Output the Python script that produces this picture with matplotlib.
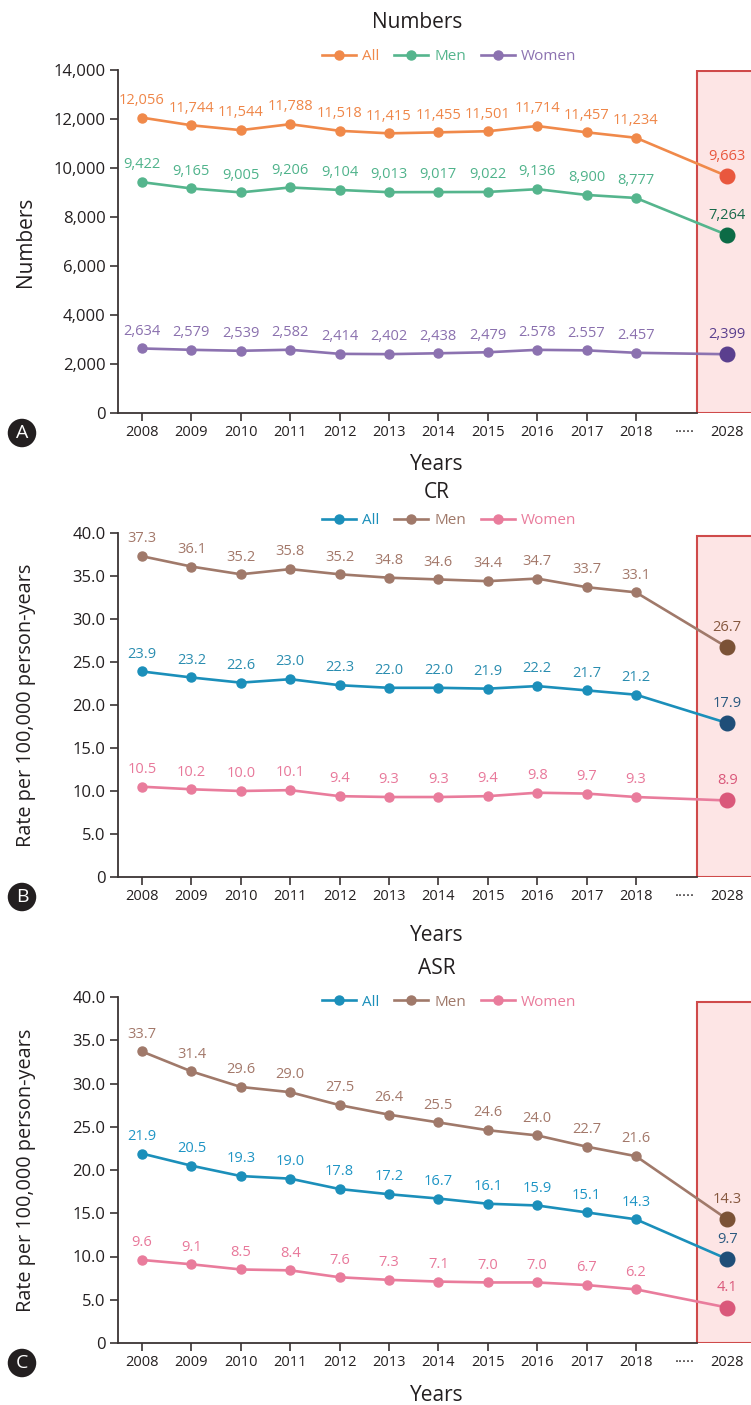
import numpy as np
import matplotlib.pyplot as plt
from matplotlib.patches import Rectangle

plt.rcParams['font.family'] = ['Open Sans', 'DejaVu Sans']

years = ['2008', '2009', '2010', '2011', '2012', '2013', '2014', '2015', '2016', '2017', '2018', '2028']

# panel A - numbers
num_all = [12056, 11744, 11544, 11788, 11518, 11415, 11455, 11501, 11714, 11457, 11234, 9663]
num_men = [9422, 9165, 9005, 9206, 9104, 9013, 9017, 9022, 9136, 8900, 8777, 7264]
num_women = [2634, 2579, 2539, 2582, 2414, 2402, 2438, 2479, 2578, 2557, 2457, 2399]
num_all_lab = ['12,056', '11,744', '11,544', '11,788', '11,518', '11,415', '11,455', '11,501', '11,714',
               '11,457', '11,234', '9,663']
num_men_lab = ['9,422', '9,165', '9,005', '9,206', '9,104', '9,013', '9,017', '9,022', '9,136', '8,900',
               '8,777', '7,264']
num_women_lab = ['2,634', '2,579', '2,539', '2,582', '2,414', '2,402', '2,438', '2,479', '2.578', '2.557',
                 '2.457', '2,399']

# panel B - crude rate
cr_all = [23.9, 23.2, 22.6, 23.0, 22.3, 22.0, 22.0, 21.9, 22.2, 21.7, 21.2, 17.9]
cr_men = [37.3, 36.1, 35.2, 35.8, 35.2, 34.8, 34.6, 34.4, 34.7, 33.7, 33.1, 26.7]
cr_women = [10.5, 10.2, 10.0, 10.1, 9.4, 9.3, 9.3, 9.4, 9.8, 9.7, 9.3, 8.9]

# panel C - age standardized rate
asr_all = [21.9, 20.5, 19.3, 19.0, 17.8, 17.2, 16.7, 16.1, 15.9, 15.1, 14.3, 9.7]
asr_men = [33.7, 31.4, 29.6, 29.0, 27.5, 26.4, 25.5, 24.6, 24.0, 22.7, 21.6, 14.3]
asr_women = [9.6, 9.1, 8.5, 8.4, 7.6, 7.3, 7.1, 7.0, 7.0, 6.7, 6.2, 4.1]

# x positions: 11 observed years, a gap, then the projection year
xpos = np.append(np.arange(11), 11.85)
x_dots = 11.0
x_box = 11.23
xlim = (-0.486, 12.33)

TXT = '#231f20'
SPINE = '#3a3434'

fig = plt.figure(figsize=(7.51, 14.05), dpi=100)
H = 1405.
W = 751.
AW = W - 118


def make_axes(top_px, bottom_px):
    return fig.add_axes([118 / W, 1 - bottom_px / H, AW / W, (bottom_px - top_px) / H])


def draw_series(ax, vals, labels, col, lab_col, end_col, end_lab_col, name):
    ax.plot(xpos, vals, color=col, lw=1.9, marker='o', ms=6.5, zorder=3, label=name)
    ax.plot(xpos[-1], vals[-1], marker='o', ms=10.5, color=end_col, zorder=4)
    for i in range(len(vals)):
        if i < len(vals) - 1:
            ax.annotate(labels[i], (xpos[i], vals[i]), xytext=(0, 7), textcoords='offset points',
                        ha='center', va='bottom', fontsize=10.5, color=lab_col)
        else:
            ax.annotate(labels[i], (xpos[i], vals[i]), xytext=(0, 9), textcoords='offset points',
                        ha='center', va='bottom', fontsize=10.5, color=end_lab_col)


def style_axes(ax, ymax, step, fmt, box_top, title, title_dy, legend_dy, ylabel, ylabel_fs, years_dy,
               letter, title_x=0.504):
    ax.set_xlim(xlim)
    ax.set_ylim(0, ymax)
    ax.add_patch(Rectangle((x_box, 0), 5, box_top, facecolor='#fde5e5', edgecolor='#cf4a4a', lw=1.5,
                           zorder=1))
    for s in ['top', 'right']:
        ax.spines[s].set_visible(False)
    ax.spines['bottom'].set_bounds(xlim[0], x_box)
    for s in ['left', 'bottom']:
        ax.spines[s].set_color(SPINE)
        ax.spines[s].set_linewidth(1.3)
    yt = np.arange(0, ymax + step / 2, step)
    ax.set_yticks(yt, ['0'] + [fmt(v) for v in yt[1:]])
    ax.set_xticks(xpos[:11], years[:11])
    ax.set_xticks([x_dots, xpos[-1]], ['·····', years[-1]], minor=True)
    ax.tick_params(axis='both', which='major', direction='out', length=6, width=1.2, color=SPINE,
                   labelcolor=TXT, pad=3)
    ax.tick_params(axis='x', which='major', labelsize=10.5, pad=3)
    ax.tick_params(axis='x', which='minor', length=0, labelsize=10.5, pad=9, labelcolor=TXT)
    ax.tick_params(axis='y', which='major', labelsize=12)
    h = ax.get_position().height * H
    ax.text(title_x, 1 + title_dy / h, title, transform=ax.transAxes, ha='center', va='center',
            fontsize=15, color=TXT)
    leg = ax.legend(loc='center', bbox_to_anchor=(0.523, 1 + legend_dy / h), ncol=3, frameon=False,
                    fontsize=11, handlelength=2.2, handletextpad=0.4, columnspacing=1.0,
                    borderaxespad=0)
    for t, l in zip(leg.get_texts(), leg.get_lines()):
        t.set_color(l.get_color())
    ax.set_ylabel(ylabel, fontsize=ylabel_fs, color=TXT)
    ax.yaxis.set_label_coords(-(118 - 36) / AW, 0.5)
    ax.set_xlabel('Years', fontsize=15, color=TXT)
    ax.xaxis.set_label_coords(0.504, -(years_dy - 11) / h)
    ax.text(-96 / AW, -20 / h, letter, transform=ax.transAxes, ha='center', va='center',
            fontsize=14, color='white',
            bbox=dict(boxstyle='circle,pad=0.27', fc='#231f20', ec='none'))


# ---------- A ----------
axA = make_axes(70, 413)
draw_series(axA, num_all, num_all_lab, '#f0894a', '#ef8648', '#e9573e', '#e9573e', 'All')
draw_series(axA, num_men, num_men_lab, '#55b58d', '#4fb38b', '#0c6b46', '#17694a', 'Men')
draw_series(axA, num_women, num_women_lab, '#8c72b0', '#8a70ae', '#5a3f8e', '#5a3f8e', 'Women')
style_axes(axA, 14000, 2000, lambda v: f'{int(v):,}', 13960, 'Numbers', 48, 13, 'Numbers', 15, 52, 'A',
           title_x=0.472)

# ---------- B ----------
axB = make_axes(533, 877)
draw_series(axB, cr_all, [f'{v:.1f}' for v in cr_all], '#1b8fba', '#2a8db0', '#1f4e78', '#2b5a80', 'All')
draw_series(axB, cr_men, [f'{v:.1f}' for v in cr_men], '#a0796a', '#a3786a', '#7b5236', '#86573e', 'Men')
draw_series(axB, cr_women, [f'{v:.1f}' for v in cr_women], '#e97c9c', '#e8789a', '#da587a', '#da587a',
            'Women')
style_axes(axB, 40, 5, lambda v: f'{v:.1f}', 39.6, 'CR', 40, 12, 'Rate per 100,000 person-years', 14.3,
           59, 'B')

# ---------- C ----------
axC = make_axes(997, 1343)
draw_series(axC, asr_all, [f'{v:.1f}' for v in asr_all], '#1b8fba', '#1f95c5', '#1f4e78', '#2b5a80', 'All')
draw_series(axC, asr_men, [f'{v:.1f}' for v in asr_men], '#a0796a', '#a3786a', '#7b5236', '#86573e', 'Men')
draw_series(axC, asr_women, [f'{v:.1f}' for v in asr_women], '#e97c9c', '#e8789a', '#da587a', '#da587a',
            'Women')
style_axes(axC, 40, 5, lambda v: f'{v:.1f}', 39.4, 'ASR', 28, -5, 'Rate per 100,000 person-years', 14.3,
           53, 'C')

fig.savefig('out.png', dpi=100)
